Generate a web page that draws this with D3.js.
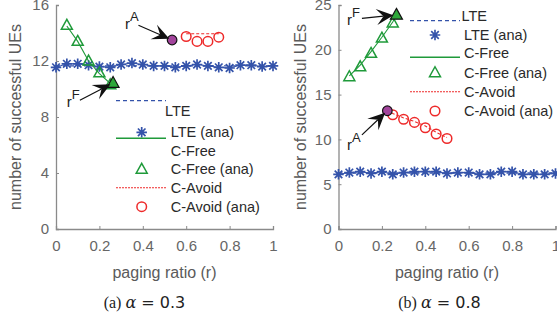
<!DOCTYPE html>
<html>
<head>
<meta charset="utf-8">
<script src="https://cdn.jsdelivr.net/npm/d3@7"></script>
<style>
  body { margin: 0; background: #fff; }
  svg { display: block; }
  text { font-family: "Liberation Sans", Arial, sans-serif; }
</style>
</head>
<body>
<div id="chart"></div>
<script>
// paging ratio grid for the LTE (ana) markers
const lteR = d3.range(21).map(i => +(i * 0.05).toFixed(2));

// panel (a), alpha = 0.3
const aLteAna = [11.55, 11.8, 11.8, 11.7, 11.6, 11.55, 11.75, 11.85, 11.75, 11.65, 11.65,
                 11.55, 11.65, 11.75, 11.65, 11.55, 11.5, 11.7, 11.7, 11.6, 11.65];
const aLteSim = [11.65, 11.65];
const aFreeR = [0.05, 0.1, 0.15, 0.2, 0.25];
const aFreeAna = [14.55, 13.4, 12.0, 11.15, 10.3];
const aFreeSimR = [0.05, 0.1, 0.15, 0.2, 0.25, 0.263];
const aFreeSim = [14.5, 13.4, 12.0, 11.1, 10.4, 10.43];
const aFreeOpt = { r: 0.263, v: 10.43 };
const aAvoidR = [0.6, 0.65, 0.7, 0.75];
const aAvoidAna = [13.75, 13.4, 13.4, 13.7];
const aAvoidSim = [13.95, 13.95, 13.95, 13.95];
const aAvoidOpt = { r: 0.535, v: 13.5 };

// panel (b), alpha = 0.8
const bLteAna = [6.1, 6.3, 6.4, 6.2, 6.4, 6.1, 6.3, 6.4, 6.4, 6.4, 6.2,
                 6.3, 6.3, 6.1, 6.1, 6.4, 6.4, 6.1, 6.1, 6.1, 6.2];
const bLteSim = [6.25, 6.25];
const bFreeR = [0.05, 0.1, 0.15, 0.2, 0.25];
const bFreeAna = [17.0, 18.1, 19.6, 21.3, 23.0];
const bFreeSimR = [0.05, 0.1, 0.15, 0.2, 0.25, 0.267];
const bFreeSim = [17.1, 18.3, 19.8, 21.4, 23.1, 23.9];
const bFreeOpt = { r: 0.267, v: 23.9 };
const bAvoidR = [0.25, 0.3, 0.35, 0.4, 0.45, 0.5];
const bAvoidAna = [12.75, 12.25, 11.9, 11.3, 10.6, 10.1];
const bAvoidSimR = [0.225, 0.25, 0.3, 0.35, 0.4, 0.45, 0.5];
const bAvoidSim = [13.2, 12.9, 12.4, 12.0, 11.5, 10.8, 10.2];
const bAvoidOpt = { r: 0.225, v: 13.2 };

const xTicks = [0, 0.2, 0.4, 0.6, 0.8, 1];
const aYTicks = [0, 4, 8, 12, 16];
const bYTicks = [0, 5, 10, 15, 20, 25];

const legendNames = ["LTE", "LTE (ana)", "C-Free", "C-Free (ana)", "C-Avoid", "C-Avoid (ana)"];

const blue = "#3453aa", green = "#1f9a3a", red = "#ee2a2a", purple = "#a2449c";
const axisColor = "#8a8a8a", tickText = "#666", labelText = "#5a5a5a";

const W = 557, H = 322;
const svg = d3.select("#chart").append("svg").attr("width", W).attr("height", H);

const panels = [
  {
    x0: 56, yMax: 16, yTicks: aYTicks, lteAna: aLteAna, lteSim: aLteSim,
    freeR: aFreeR, freeAna: aFreeAna, freeSimR: aFreeSimR, freeSim: aFreeSim, freeOpt: aFreeOpt,
    avoidR: aAvoidR, avoidAna: aAvoidAna, avoidSimR: aAvoidR, avoidSim: aAvoidSim, avoidOpt: aAvoidOpt,
    // annotation text positions in data units
    noteF: { r: 0.05, v: 8.75, tail: [0.11, 9.2] },
    noteA: { r: 0.318, v: 14.3, tail: [0.38, 14.55] },
    legend: { line: [60, 110], mark: 85.7, text: 114.7, lteText: 109,
              rows: [100.7, 110.7, 132.3, 138.3, 150.7, 169.3, 187.7, 206.7] },
    caption: "(a) ", alphaVal: " = 0.3", captionX: 144.5, ylabX: -41
  },
  {
    x0: 338.5, yMax: 25, yTicks: bYTicks, lteAna: bLteAna, lteSim: bLteSim,
    freeR: bFreeR, freeAna: bFreeAna, freeSimR: bFreeSimR, freeSim: bFreeSim, freeOpt: bFreeOpt,
    avoidR: bAvoidR, avoidAna: bAvoidAna, avoidSimR: bAvoidSimR, avoidSim: bAvoidSim, avoidOpt: bAvoidOpt,
    noteF: { r: 0.039, v: 22.75, tail: [0.108, 23.5] },
    noteA: { r: 0.039, v: 8.8, tail: [0.108, 10.5] },
    legend: { line: [71.5, 121.5], mark: 96.5, text: 125.5, lteText: 123,
              rows: [20.7, 15.7, 35, 57.3, 53, 72.7, 91.7, 111] },
    caption: "(b) ", alphaVal: " = 0.8", captionX: 439.5, ylabX: -38.5
  }
];

function starPath(s) {
  const a = s / 2, d = a * 0.72;
  return `M${-a},0L${a},0M0,${-a}L0,${a}M${-d},${-d}L${d},${d}M${-d},${d}L${d},${-d}`;
}
function triPath(s) {
  const h = s * 0.9;
  return `M0,${-h * 0.6}L${s / 2},${h * 0.4}L${-s / 2},${h * 0.4}Z`;
}

function drawArrow(g, x1, y1, x2, y2) {
  const ang = Math.atan2(y2 - y1, x2 - x1);
  const L = 17, Wd = 8, notch = 10;
  g.append("line")
    .attr("x1", x1).attr("y1", y1)
    .attr("x2", x2 - Math.cos(ang) * notch).attr("y2", y2 - Math.sin(ang) * notch)
    .attr("stroke", "#111").attr("stroke-width", 1.2);
  const head = d3.path();
  head.moveTo(0, 0);
  head.lineTo(-L, -Wd);
  head.lineTo(-notch, 0);
  head.lineTo(-L, Wd);
  head.closePath();
  g.append("path").attr("d", head.toString())
    .attr("transform", `translate(${x2},${y2}) rotate(${ang * 180 / Math.PI})`)
    .attr("fill", "#111");
}

panels.forEach(p => {
  const x = d3.scaleLinear().domain([0, 1]).range([p.x0, p.x0 + 217]);
  const y = d3.scaleLinear().domain([0, p.yMax]).range([229, 5]);
  const g = svg.append("g");

  // axes
  const xAxis = g.append("g").attr("transform", "translate(0,229)")
    .call(d3.axisBottom(x).tickValues(xTicks).tickSize(-3).tickPadding(11).tickFormat(d3.format("")));
  const yAxis = g.append("g").attr("transform", `translate(${p.x0},0)`)
    .call(d3.axisLeft(y).tickValues(p.yTicks).tickSize(-3).tickPadding(7));
  [xAxis, yAxis].forEach(ax => {
    ax.select(".domain").attr("stroke", axisColor).attr("stroke-width", 1.3);
    ax.selectAll(".tick line").attr("stroke", axisColor);
    ax.selectAll(".tick text").attr("fill", tickText).attr("font-size", 15)
      .attr("font-family", "Liberation Sans, Arial, sans-serif");
  });
  xAxis.selectAll(".tick text").attr("dy", "0.71em");

  g.append("text")
    .attr("x", x(0.5)).attr("y", 272).attr("dy", "0.35em")
    .attr("text-anchor", "middle").attr("font-size", 16).attr("fill", labelText)
    .text("paging ratio (r)");
  g.append("text")
    .attr("transform", `translate(${p.x0 + p.ylabX},117) rotate(-90)`)
    .attr("dy", "0.35em")
    .attr("text-anchor", "middle").attr("font-size", 16).attr("fill", labelText)
    .text("number of successful UEs");

  const cap = g.append("text").attr("x", p.captionX).attr("y", 302).attr("dy", "0.35em")
    .attr("text-anchor", "middle").attr("fill", "#222");
  cap.append("tspan").attr("font-family", "Liberation Serif, serif").attr("font-size", 16).text(p.caption);
  cap.append("tspan").attr("font-family", "DejaVu Serif, serif").attr("font-style", "italic").attr("font-size", 16).text("α");
  cap.append("tspan").attr("font-family", "DejaVu Sans, sans-serif").attr("font-size", 16).text(p.alphaVal);

  const line = d3.line().x(d => x(d[0])).y(d => y(d[1]));

  // LTE sim (dashed) and ana stars
  g.append("path").datum([[0, p.lteSim[0]], [1, p.lteSim[1]]]).attr("d", line)
    .attr("fill", "none").attr("stroke", blue).attr("stroke-width", 1.3).attr("stroke-dasharray", "4,3");
  g.append("path").datum(lteR.map((r, i) => [r, p.lteAna[i]])).attr("d", line)
    .attr("fill", "none").attr("stroke", blue).attr("stroke-width", 1);
  g.selectAll(".star").data(lteR.map((r, i) => [r, p.lteAna[i]])).enter().append("path")
    .attr("transform", d => `translate(${x(d[0])},${y(d[1])})`)
    .attr("d", starPath(10.5)).attr("stroke", blue).attr("stroke-width", 1.7).attr("fill", "none");

  // C-Free sim line and ana triangles
  g.append("path").datum(p.freeSimR.map((r, i) => [r, p.freeSim[i]])).attr("d", line)
    .attr("fill", "none").attr("stroke", green).attr("stroke-width", 1.1);
  g.selectAll(".tri").data(p.freeR.map((r, i) => [r, p.freeAna[i]])).enter().append("path")
    .attr("transform", d => `translate(${x(d[0])},${y(d[1])})`)
    .attr("d", triPath(11)).attr("stroke", green).attr("stroke-width", 1.5).attr("fill", "none");

  // C-Avoid sim dotted line and ana circles
  g.append("path").datum(p.avoidSimR.map((r, i) => [r, p.avoidSim[i]])).attr("d", line)
    .attr("fill", "none").attr("stroke", red).attr("stroke-width", 1.1).attr("stroke-dasharray", "3,2");
  g.selectAll(".circ").data(p.avoidR.map((r, i) => [r, p.avoidAna[i]])).enter().append("circle")
    .attr("cx", d => x(d[0])).attr("cy", d => y(d[1])).attr("r", 4.8)
    .attr("stroke", red).attr("stroke-width", 1.5).attr("fill", "none");

  // optimal points
  g.append("path").attr("transform", `translate(${x(p.freeOpt.r)},${y(p.freeOpt.v)})`)
    .attr("d", triPath(12)).attr("fill", "#2ea83a").attr("stroke", "#111").attr("stroke-width", 1.2);
  g.append("circle").attr("cx", x(p.avoidOpt.r)).attr("cy", y(p.avoidOpt.v)).attr("r", 4.8)
    .attr("fill", purple).attr("stroke", "#111").attr("stroke-width", 1.2);

  // annotations r^F and r^A
  [[p.noteF, p.freeOpt, "F"], [p.noteA, p.avoidOpt, "A"]].forEach(([n, pt, sup]) => {
    const t = g.append("text").attr("x", x(n.r)).attr("y", y(n.v)).attr("font-size", 15).attr("fill", "#222");
    t.append("tspan").text("r");
    t.append("tspan").attr("dy", -8).attr("font-size", 13).text(sup);
    const tx = x(pt.r), ty = y(pt.v);
    const sx = x(n.tail[0]), sy = y(n.tail[1]);
    const ang = Math.atan2(ty - sy, tx - sx);
    drawArrow(g, sx, sy, tx - Math.cos(ang) * 3, ty - Math.sin(ang) * 3);
  });

  // legend (MATLAB-style, entries offset from their samples)
  const L = p.legend, R = L.rows, lx = d => p.x0 + d;
  const lg = g.append("g");
  lg.append("line").attr("x1", lx(L.line[0])).attr("x2", lx(L.line[1])).attr("y1", R[0]).attr("y2", R[0])
    .attr("stroke", blue).attr("stroke-width", 1.3).attr("stroke-dasharray", "4,3");
  lg.append("path").attr("transform", `translate(${lx(L.mark)},${R[2]})`).attr("d", starPath(10.5))
    .attr("stroke", blue).attr("stroke-width", 1.7);
  lg.append("line").attr("x1", lx(L.line[0])).attr("x2", lx(L.line[1])).attr("y1", R[3]).attr("y2", R[3])
    .attr("stroke", green).attr("stroke-width", 1.4);
  lg.append("path").attr("transform", `translate(${lx(L.mark)},${R[5]})`).attr("d", triPath(11))
    .attr("stroke", green).attr("stroke-width", 1.5).attr("fill", "none");
  lg.append("line").attr("x1", lx(L.line[0])).attr("x2", lx(L.line[1])).attr("y1", R[6]).attr("y2", R[6])
    .attr("stroke", red).attr("stroke-width", 1.1).attr("stroke-dasharray", "2,1");
  lg.append("circle").attr("cx", lx(L.mark)).attr("cy", R[7]).attr("r", 4.8)
    .attr("stroke", red).attr("stroke-width", 1.5).attr("fill", "none");

  const textRows = [R[1], R[2], R[4], R[5], R[6], R[7]];
  lg.selectAll(".lt").data(legendNames).enter().append("text")
    .attr("x", (d, i) => lx(i === 0 ? L.lteText : L.text))
    .attr("y", (d, i) => textRows[i]).attr("dy", "0.35em")
    .attr("font-size", 14.5).attr("fill", "#2a2a2a").text(d => d);
});
</script>
</body>
</html>
